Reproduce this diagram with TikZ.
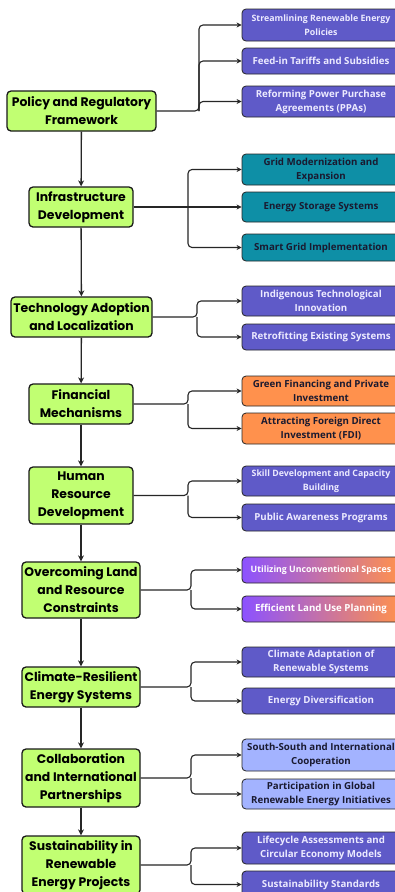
\documentclass[tikz,border=0pt]{standalone}
\usepackage{fontspec}
\usetikzlibrary{arrows.meta,calc}
\newfontfamily\boxfont{Poppins}
\newfontfamily\kidfont{Open Sans}
\definecolor{mygreen}{HTML}{C1FF72}
\definecolor{mypurple}{HTML}{5F5AC8}
\definecolor{myteal}{HTML}{0E8FA6}
\definecolor{myorange}{HTML}{FF914D}
\definecolor{mylblue}{HTML}{A3B3FF}
\definecolor{myviolet}{HTML}{8C52FF}
\definecolor{lighttxt}{HTML}{ECEAFF}
\definecolor{darktxt}{HTML}{1A1A30}
\begin{document}
\begin{tikzpicture}[x=1pt,y=-1pt,
  mainbox/.style={draw=black!90, line width=1.3pt, fill=mygreen, rounded corners=4pt, align=center,
    font=\boxfont\bfseries\fontsize{12.4}{18}\selectfont, inner sep=0pt},
  kid/.style={draw=black!85, line width=0.8pt, rounded corners=4pt, align=center, minimum width=158pt,
    font=\kidfont\bfseries\fontsize{9.7}{14}\selectfont, inner sep=0pt},
  kidsmall/.style={font=\kidfont\bfseries\fontsize{8.8}{14}\selectfont},
  kpurple/.style={kid, fill=mypurple, text=lighttxt},
  kteal/.style={kid, fill=myteal, text=darktxt},
  korange/.style={kid, fill=myorange, text=darktxt},
  kblue/.style={kid, fill=mylblue, text=darktxt},
  kgrad/.style={kid, left color=myviolet, right color=myorange, text=white},
  conn/.style={draw=black!85, line width=1.1pt, rounded corners=4pt, -{Stealth[length=5pt,width=5pt]}},
  flow/.style={draw=black!85, line width=1.3pt, -{Stealth[length=6pt,width=6pt]}}
]
\useasboundingbox (0,0) rectangle (395,892);
\fill[white] (0,0) rectangle (395,892);

% main boxes
\node[mainbox, minimum width=149pt, minimum height=40pt] (P) at (81.5,111) {Policy and Regulatory\\Framework};
\node[mainbox, minimum width=104pt, minimum height=40pt] (I) at (81,207) {Infrastructure\\Development};
\node[mainbox, minimum width=141pt, minimum height=40pt] (T) at (81.5,317) {Technology Adoption\\and Localization};
\node[mainbox, minimum width=104pt, minimum height=40pt] (F) at (81,404) {Financial\\Mechanisms};
\node[mainbox, minimum width=104pt, minimum height=57pt] (H) at (81,495.5) {Human\\Resource\\Development};
\node[mainbox, minimum width=118pt, minimum height=56pt] (O) at (81,590) {Overcoming Land\\and Resource\\Constraints};
\node[mainbox, minimum width=118pt, minimum height=40pt] (C) at (81,687) {Climate-Resilient\\Energy Systems};
\node[mainbox, minimum width=118pt, minimum height=58pt] (Co) at (81,778) {Collaboration\\and International\\Partnerships};
\node[mainbox, minimum width=118pt, minimum height=58pt] (S) at (81,865) {Sustainability in\\Renewable\\Energy Projects};

% children
\node[kpurple, kidsmall, minimum height=32pt] (P1) at (321,25) {Streamlining Renewable Energy\\Policies};
\node[kpurple, minimum height=26pt] (P2) at (321,61) {Feed-in Tariffs and Subsidies};
\node[kpurple, minimum height=31pt] (P3) at (321,101.5) {Reforming Power Purchase\\Agreements (PPAs)};

\node[kteal, minimum height=31pt] (I1) at (321,169.5) {Grid Modernization and\\Expansion};
\node[kteal, minimum height=30pt] (I2) at (321,207) {Energy Storage Systems};
\node[kteal, minimum height=27pt] (I3) at (321,247.5) {Smart Grid Implementation};

\node[kpurple, minimum height=30pt] (T1) at (321,301) {Indigenous Technological\\Innovation};
\node[kpurple, minimum height=26pt] (T2) at (321,337) {Retrofitting Existing Systems};

\node[korange, minimum height=30pt] (F1) at (321,391) {Green Financing and Private\\Investment};
\node[korange, minimum height=31pt] (F2) at (321,428.5) {Attracting Foreign Direct\\Investment (FDI)};

\node[kpurple, kidsmall, minimum height=30pt] (H1) at (321,481) {Skill Development and Capacity\\Building};
\node[kpurple, minimum height=27pt] (H2) at (321,517.5) {Public Awareness Programs};

\node[kgrad, kidsmall, minimum height=26pt] (O1) at (321,570) {Utilizing Unconventional Spaces};
\node[kgrad, minimum height=26pt] (O2) at (321,609) {Efficient Land Use Planning};

\node[kpurple, minimum height=30pt] (C1) at (321,662) {Climate Adaptation of\\Renewable Systems};
\node[kpurple, minimum height=26pt] (C2) at (321,701) {Energy Diversification};

\node[kblue, minimum height=32pt] (Co1) at (321,755) {South-South and International\\Cooperation};
\node[kblue, minimum height=30pt] (Co2) at (321,794) {Participation in Global\\Renewable Energy Initiatives};

\node[kpurple, minimum height=32pt] (S1) at (321,848) {Lifecycle Assessments and\\Circular Economy Models};
\node[kpurple, minimum height=27pt] (S2) at (321,884.5) {Sustainability Standards};

% bus coordinates
\coordinate (bP) at (199,0);
\coordinate (bI) at (188,0);
\coordinate (bT) at (197,0);
\coordinate (bF) at (188,0);
\coordinate (bH) at (188,0);
\coordinate (bO) at (191,0);
\coordinate (bC) at (191,0);
\coordinate (bCo) at (191,0);
\coordinate (bS) at (191,0);

% vertical flow
\draw[flow] (P) -- (I);
\draw[flow] (I) -- (T);
\draw[flow] (T) -- (F);
\draw[flow] (F) -- (H);
\draw[flow] (H) -- (O);
\draw[flow] (O) -- (C);
\draw[flow] (C) -- (Co);
\draw[flow] (Co) -- (S);

% branches
\draw[conn] (P.east) -- (P.east -| bP) |- (P1.west);
\draw[conn] (P.east -| bP) |- (P2.west);
\draw[conn] (P.east -| bP) |- (P3.west);

\draw[conn] (I.east) -- (I2.west);
\draw[conn] (I.east -| bI) |- (I1.west);
\draw[conn] (I.east -| bI) |- (I3.west);

\foreach \m/\a/\b in {T/T1/T2, F/F1/F2, H/H1/H2, O/O1/O2, C/C1/C2, Co/Co1/Co2, S/S1/S2}{
  \draw[conn] (\m.east) -- (\m.east -| b\m) |- (\a.west);
  \draw[conn] (\m.east -| b\m) |- (\b.west);
}
\end{tikzpicture}
\end{document}
